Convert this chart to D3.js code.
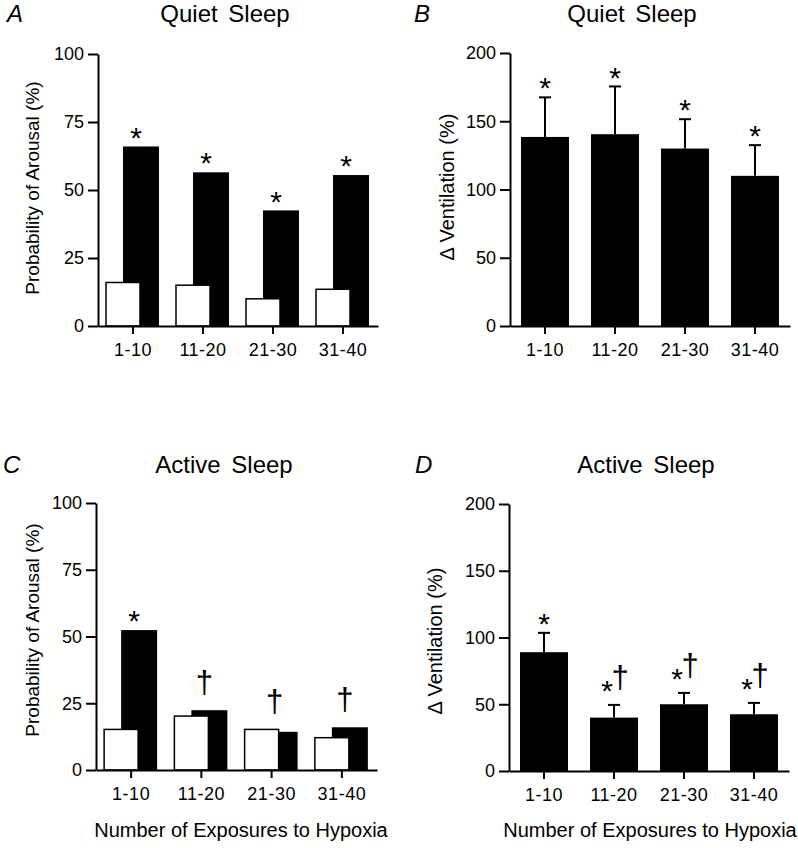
<!DOCTYPE html>
<html>
<head>
<meta charset="utf-8">
<script src="https://cdn.jsdelivr.net/npm/d3@7"></script>
<style>
  body { margin: 0; background: #fff; }
  text { font-family: "Liberation Sans", Arial, Helvetica, sans-serif; fill: #000; }
</style>
</head>
<body>
<div id="chart"></div>
<script>
// Data
const groups = ["1-10", "11-20", "21-30", "31-40"];

// Probability of arousal (%) - open = control, filled = hypoxia
const quietArousalOpen = [16, 15, 10, 13.5];
const quietArousalFilled = [66, 56.5, 42.5, 55.5];
const activeArousalOpen = [15.2, 20.2, 15.2, 12.1];
const activeArousalFilled = [52.4, 22.4, 14.3, 16];

// Change in ventilation (%) with upper error (SEM)
const quietVent = [138.5, 140.5, 130, 110];
const quietVentErr = [29, 35, 21.5, 22.5];
const activeVent = [89, 40, 50, 42.5];
const activeVentErr = [14.5, 9.5, 8.5, 8.5];

// significance marks
const quietArousalMarks = ["*", "*", "*", "*"];
const quietVentMarks = ["*", "*", "*", "*"];
const activeArousalMarks = ["*", "†", "†", "†"];
const activeVentMarks = ["*", "*†", "*†", "*†"];

const arousalTicks = [0, 25, 50, 75, 100];
const ventTicks = [0, 50, 100, 150, 200];

const width = 798, height = 848;

const svg = d3.select('#chart')
    .append('svg')
    .attr('width', width)
    .attr('height', height);

// draw "*", "†" or "*†" above a given top (px)
const starSize = 30, daggerSize = 31;
function star(g, cx, centerY) {
    g.append('text').attr('x', cx).attr('y', centerY + 0.57 * starSize)
        .attr('text-anchor', 'middle').style('font-size', starSize + 'px').text('*');
}
function dagger(g, cx, baseY) {
    g.append('text').attr('x', cx).attr('y', baseY)
        .attr('text-anchor', 'middle').style('font-size', daggerSize + 'px').text('†');
}
function drawMark(g, cx, top, mark) {
    if (mark === "*") {
        star(g, cx, top - 16);
    } else if (mark === "†") {
        dagger(g, cx, top - 17);
    } else {
        star(g, cx - 7, top - 21);
        dagger(g, cx + 6, top - 17);
    }
}

function drawPanel(p) {
    const g = svg.append('g');

    const x = d3.scaleBand().domain(groups).range([p.x0, p.x1]).padding(0);
    const y = d3.scaleLinear().domain([0, p.yMax]).range([p.yBottom, p.yTop]);

    // bars
    if (p.type === 'arousal') {
        g.selectAll('.filled')
            .data(groups)
            .enter().append('rect')
            .attr('x', d => x(d) + x.bandwidth() / 2 - 10)
            .attr('width', 36)
            .attr('y', (d, i) => y(p.filled[i]))
            .attr('height', (d, i) => y(0) - y(p.filled[i]))
            .attr('fill', '#000');
        g.selectAll('.open')
            .data(groups)
            .enter().append('rect')
            .attr('x', d => x(d) + x.bandwidth() / 2 - 27)
            .attr('width', 34)
            .attr('y', (d, i) => y(p.open[i]))
            .attr('height', (d, i) => y(0) - y(p.open[i]))
            .attr('fill', '#fff')
            .attr('stroke', '#000')
            .attr('stroke-width', 1.5);
        groups.forEach((d, i) => {
            const top = y(Math.max(p.open[i], p.filled[i]));
            drawMark(g, x(d) + x.bandwidth() / 2 + 3, top, p.marks[i]);
        });
    } else {
        g.selectAll('.err')
            .data(groups)
            .enter().append('line')
            .attr('x1', d => x(d) + x.bandwidth() / 2)
            .attr('x2', d => x(d) + x.bandwidth() / 2)
            .attr('y1', (d, i) => y(p.values[i]))
            .attr('y2', (d, i) => y(p.values[i] + p.errs[i]))
            .attr('stroke', '#000').attr('stroke-width', 2);
        g.selectAll('.cap')
            .data(groups)
            .enter().append('line')
            .attr('x1', d => x(d) + x.bandwidth() / 2 - 6)
            .attr('x2', d => x(d) + x.bandwidth() / 2 + 6)
            .attr('y1', (d, i) => y(p.values[i] + p.errs[i]))
            .attr('y2', (d, i) => y(p.values[i] + p.errs[i]))
            .attr('stroke', '#000').attr('stroke-width', 2);
        g.selectAll('.bar')
            .data(groups)
            .enter().append('rect')
            .attr('x', d => x(d) + x.bandwidth() / 2 - 24)
            .attr('width', 48)
            .attr('y', (d, i) => y(p.values[i]))
            .attr('height', (d, i) => y(0) - y(p.values[i]))
            .attr('fill', '#000');
        groups.forEach((d, i) => {
            drawMark(g, x(d) + x.bandwidth() / 2, y(p.values[i] + p.errs[i]), p.marks[i]);
        });
    }

    // axes
    const xAxis = g.append('g')
        .attr('transform', `translate(0,${p.yBottom})`)
        .call(d3.axisBottom(x).tickSize(8).tickSizeOuter(0).tickPadding(9));
    xAxis.selectAll('text').style('font-size', '18px').style('letter-spacing', '0.5px');

    const yAxis = g.append('g')
        .attr('transform', `translate(${p.x0},0)`)
        .call(d3.axisLeft(y).tickValues(p.yTicks).tickSize(10).tickSizeOuter(0).tickPadding(4));
    yAxis.selectAll('text').style('font-size', '18px');

    [xAxis, yAxis].forEach(a => {
        a.select('.domain').attr('stroke-width', 2);
        a.selectAll('.tick line').attr('stroke-width', 2);
    });

    // title, panel letter, y label
    g.append('text')
        .attr('x', p.titleX).attr('y', p.titleY)
        .attr('text-anchor', 'middle')
        .style('font-size', '24px').style('word-spacing', '4px')
        .text(p.title);
    g.append('text')
        .attr('x', p.letterX).attr('y', p.titleY)
        .style('font-size', '24px').style('font-style', 'italic')
        .text(p.letter);
    g.append('text')
        .attr('transform', `translate(${p.yLabelX},${p.yLabelY}) rotate(-90)`)
        .attr('text-anchor', 'middle')
        .style('font-size', p.yLabelSize)
        .text(p.yLabel);

    if (p.xLabel) {
        g.append('text')
            .attr('x', p.xLabelX).attr('y', p.xLabelY)
            .attr('text-anchor', 'middle')
            .style('font-size', '20px')
            .text(p.xLabel);
    }
}

drawPanel({
    type: 'arousal', letter: 'A', title: 'Quiet Sleep',
    open: quietArousalOpen, filled: quietArousalFilled, marks: quietArousalMarks,
    x0: 98, x1: 378, yTop: 54, yBottom: 326, yMax: 100, yTicks: arousalTicks,
    titleX: 225, titleY: 22, letterX: 7,
    yLabel: 'Probability of Arousal (%)', yLabelX: 39, yLabelY: 188, yLabelSize: '19px'
});

drawPanel({
    type: 'vent', letter: 'B', title: 'Quiet Sleep',
    values: quietVent, errs: quietVentErr, marks: quietVentMarks,
    x0: 510, x1: 790, yTop: 53, yBottom: 326, yMax: 200, yTicks: ventTicks,
    titleX: 632, titleY: 22, letterX: 414,
    yLabel: 'Δ Ventilation (%)', yLabelX: 454, yLabelY: 187, yLabelSize: '20px'
});

drawPanel({
    type: 'arousal', letter: 'C', title: 'Active Sleep',
    open: activeArousalOpen, filled: activeArousalFilled, marks: activeArousalMarks,
    x0: 96, x1: 377, yTop: 503, yBottom: 770, yMax: 100, yTicks: arousalTicks,
    titleX: 224, titleY: 473, letterX: 3,
    yLabel: 'Probability of Arousal (%)', yLabelX: 39, yLabelY: 630, yLabelSize: '19px',
    xLabel: 'Number of Exposures to Hypoxia', xLabelX: 241, xLabelY: 837
});

drawPanel({
    type: 'vent', letter: 'D', title: 'Active Sleep',
    values: activeVent, errs: activeVentErr, marks: activeVentMarks,
    x0: 509, x1: 789, yTop: 504, yBottom: 771, yMax: 200, yTicks: ventTicks,
    titleX: 646, titleY: 473, letterX: 415,
    yLabel: 'Δ Ventilation (%)', yLabelX: 442, yLabelY: 641, yLabelSize: '20px',
    xLabel: 'Number of Exposures to Hypoxia', xLabelX: 650, xLabelY: 837
});
</script>
</body>
</html>
